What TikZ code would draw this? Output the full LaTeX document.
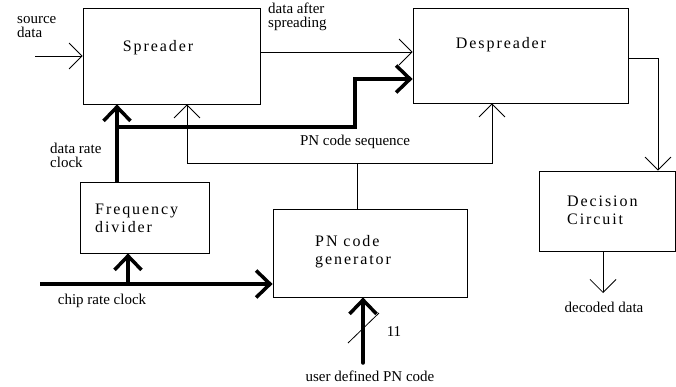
\documentclass[tikz,border=0pt]{standalone}
\usepackage{fontspec}
\setmainfont{Liberation Serif}
\newfontfamily\boxfont[LetterSpace=12]{Liberation Serif}
\usetikzlibrary{arrows.meta}
\begin{document}
\begin{tikzpicture}[x=1pt,y=-1pt,
  box/.style={draw, line width=0.8pt, inner sep=0pt},
  sig/.style={line width=0.8pt},
  sigarrow/.style={sig, -{Straight Barb[length=13pt,width=26pt]}},
  bus/.style={line width=3.5pt},
  busarrow/.style={bus, -{Straight Barb[length=14pt,width=27pt]}},
  lbl/.style={font=\fontsize{15}{14}\selectfont, inner sep=0pt, align=left},
  boxtext/.style={font=\boxfont\fontsize{16}{18}\selectfont, inner sep=0pt, align=left}]
\useasboundingbox (0,0) rectangle (676,386);

% boxes
\node[box, minimum width=177pt, minimum height=96pt] (spreader) at (171.5,56) {};
\node[box, minimum width=215pt, minimum height=95pt] (despreader) at (520.5,55.5) {};
\node[box, minimum width=129pt, minimum height=71pt] (freq) at (144.5,217.5) {};
\node[box, minimum width=194pt, minimum height=88pt] (pngen) at (370,253) {};
\node[box, minimum width=136pt, minimum height=80pt] (decision) at (607,211) {};

% box texts
\node[boxtext] (spt) at (158,48) {Spreader};
\node[boxtext] (dst) at (501,45) {Despreader};
\node[boxtext, anchor=west] (fdt) at (95,218) {Frequency\\divider};
\node[boxtext, anchor=west] (pnt) at (315,252) {PN code\\generator};
\node[boxtext, anchor=west] (dct) at (567,210) {Decision\\Circuit};

% coordinates
\coordinate (src) at (35,56);
\coordinate (sd) at (260,52);
\coordinate (j1) at (117,127);
\coordinate (bend) at (355,79);
\coordinate (pnj) at (357,163);
\coordinate (seqL) at (187,163);
\coordinate (seqR) at (492,163);
\coordinate (dout) at (658,58);
\coordinate (decout) at (603,293);
\coordinate (chip) at (40,284);
\coordinate (chipj) at (128,284);
\coordinate (usr) at (363,363);

% thin connectors
\draw[sigarrow] (src) -- (src -| spreader.west);
\draw[sigarrow] (spreader.east |- sd) -- (sd -| despreader.west);
\draw[sig] (pngen.north -| pnj) -- (pnj);
\draw[sigarrow] (pnj) -- (seqL) -- (seqL |- spreader.south);
\draw[sigarrow] (pnj) -- (seqR) -- (seqR |- despreader.south);
\draw[sigarrow] (despreader.east |- dout) -- (dout) -- (dout |- decision.north);
\draw[sigarrow] (decision.south -| decout) -- (decout);

% thick connectors
\draw[busarrow] (freq.north -| j1) -- (spreader.south -| j1);
\draw[busarrow, line join=miter] (j1) -- (j1 -| bend) -- (bend) -- (bend -| despreader.west);
\draw[busarrow] (chip) -- (chip -| pngen.west);
\draw[busarrow] (chipj) -- (chipj |- freq.south);
\draw[busarrow, line cap=round] (usr) -- (usr |- pngen.south);
\draw[sig] (348,343) -- (379,313);

% labels
\node[lbl, anchor=west] (srclbl) at (17,27) {source\\data};
\node[lbl, anchor=west] (sdlbl) at (268,17) {data after\\spreading};
\node[lbl, anchor=west] (drlbl) at (50,155) {data rate\\clock};
\node[lbl] (seqlbl) at (355,142) {PN code sequence};
\node[lbl] (chiplbl) at (102,301) {chip rate clock};
\node[lbl] (declbl) at (604,307) {decoded data};
\node[lbl] (usrlbl) at (370,376) {user defined PN code};
\node[lbl] (buswidth) at (394,332) {11};
\end{tikzpicture}
\end{document}
